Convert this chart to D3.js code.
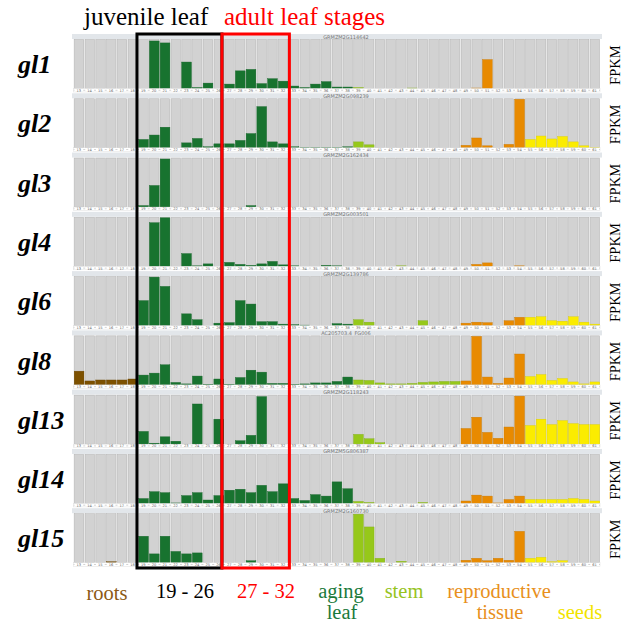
<!DOCTYPE html>
<html>
<head>
<meta charset="utf-8">
<script src="https://cdn.jsdelivr.net/npm/d3@7/dist/d3.min.js"></script>
<style>
  body { margin: 0; background: #fff; }
  svg { display: block; }
</style>
</head>
<body>
<div id="chart"></div>
<script>
// sample numbers shown under every panel
var samples = [13, 14, 15, 16, 17, 18, 19, 20, 21, 22, 23, 24, 25, 26, 27, 28, 29, 30, 31, 32,
               33, 34, 35, 36, 37, 38, 39, 40, 41, 42, 43, 44, 45, 46, 47, 48, 49, 50, 51, 52,
               53, 54, 55, 56, 57, 58, 59, 60, 61];

// tissue of each sample (same order as samples)
var sampleTissue = ["roots", "roots", "roots", "roots", "roots", "roots",
                    "leaf", "leaf", "leaf", "leaf", "leaf", "leaf", "leaf", "leaf",
                    "leaf", "leaf", "leaf", "leaf", "leaf", "leaf",
                    "leaf", "leaf", "leaf", "leaf", "leaf", "leaf",
                    "stem", "stem", "stem", "stem", "stem", "stem", "stem", "stem", "stem", "stem",
                    "repro", "repro", "repro", "repro", "repro", "repro",
                    "seed", "seed", "seed", "seed", "seed", "seed", "seed"];

var genes = ["gl1", "gl2", "gl3", "gl4", "gl6", "gl8", "gl13", "gl14", "gl15"];
var geneIds = ["GRMZM2G114642", "GRMZM2G098239", "GRMZM2G162434", "GRMZM2G003501", "GRMZM2G139786",
               "AC205703.4_FG006", "GRMZM2G118243", "GRMZM5G806387", "GRMZM2G160730"];

// relative FPKM (fraction of panel height), samples 13..61
var gl1  = [0, 0, 0, 0, 0, 0,   0, .97, .93, 0, .54, .02, .11, 0,   .09, .36, .39, .10, .20, .15,
            .05, .02, .09, .14, .03, .03,   .02, 0, 0, 0, 0, .01, 0, 0, 0, 0,
            0, .01, .59, 0, 0, 0,   0, 0, 0, 0, 0, 0, 0];
var gl2  = [0, 0, 0, 0, 0, 0,   .17, .26, .42, 0, .10, .19, .02, .08,   .08, .15, .29, .84, .12, .08,
            .02, .01, .01, .01, .01, .02,   .12, .06, 0, 0, 0, 0, 0, 0, 0, 0,
            .05, .20, .04, 0, .07, .99,   .17, .24, .18, .23, .12, .04, .01];
var gl3  = [0, 0, 0, 0, 0, 0,   .03, .44, .98, 0, 0, 0, 0, 0,   0, 0, .03, 0, 0, 0,
            0, 0, 0, 0, 0, 0,   0, 0, 0, 0, 0, 0, 0, 0, 0, 0,
            0, 0, 0, 0, 0, 0,   0, 0, 0, 0, 0, 0, 0];
var gl4  = [0, 0, 0, 0, 0, 0,   0, .89, .99, 0, .26, .01, .05, 0,   .08, .04, .02, .05, .10, .03,
            .01, 0, 0, .02, .01, 0,   0, 0, 0, 0, .01, 0, 0, 0, 0, 0,
            0, .04, .07, 0, 0, .01,   0, 0, 0, 0, 0, 0, 0];
var gl6  = [0, 0, 0, 0, 0, 0,   .51, .99, .80, 0, .24, .12, 0, .05,   .06, .51, .44, .08, .08, .03,
            .02, .01, 0, 0, .04, .03,   .12, .07, 0, 0, 0, 0, .10, 0, 0, 0,
            .05, .07, .06, 0, .10, .17,   .17, .18, .10, .09, .18, .07, .03];
var gl8  = [.28, .08, .10, .10, .10, .12,   .20, .24, .41, .05, .02, .18, .01, .12,   .01, .15, .30, .26, .03, .03,
            .01, .02, .04, .04, .07, .16,   .10, .09, .04, .02, .02, .03, .05, .06, .07, .07,
            .08, .99, .16, .03, .14, .63,   .17, .21, .09, .13, .06, .02, .06];
var gl13 = [0, 0, 0, 0, 0, 0,   .26, .02, .15, .06, 0, .82, 0, .51,   0, .07, .18, .97, 0, 0,
            0, 0, 0, 0, 0, 0,   .20, .11, .03, 0, 0, 0, 0, 0, 0, 0,
            .32, .55, .24, .12, .35, .98,   .38, .51, .40, .48, .42, .40, .40];
var gl14 = [0, 0, 0, 0, 0, 0,   .10, .24, .22, .01, .16, .22, .07, .16,   .27, .29, .22, .37, .24, .40,
            .10, .06, .18, .15, .44, .30,   .04, .02, 0, 0, 0, 0, .02, 0, 0, 0,
            .05, .17, .15, .01, .08, .15,   .08, .08, .08, .08, .10, .08, .05];
var gl15 = [0, 0, 0, .02, 0, 0,   .54, .18, .54, .23, .18, .20, 0, 0,   0, 0, .04, 0, 0, 0,
            0, 0, 0, 0, 0, 0,   .99, .73, .09, 0, .03, 0, 0, 0, 0, 0,
            .05, .09, .04, .09, .05, .64,   .09, .11, .02, .04, 0, 0, 0];

var expression = [gl1, gl2, gl3, gl4, gl6, gl8, gl13, gl14, gl15];

var tissueColor = { roots: "#7d5100", leaf: "#18732f", stem: "#96c81a", repro: "#e88a00", seed: "#fbec00" };

var width = 626, height = 623;
var serif = "'Liberation Serif', 'Times New Roman', Times, serif";

var svg = d3.select("#chart").append("svg")
    .attr("width", width)
    .attr("height", height);

var x = d3.scaleBand().domain(samples).range([73.5, 600]);
var row = d3.scaleBand().domain(genes).range([33.5, 567]);
var bw = x.bandwidth(), rh = row.bandwidth();

var headH = 5.5, barBottom = 55, tickH = 3.5;
var yv = d3.scaleLinear().domain([0, 1]).range([barBottom, headH + 0.5]);

var rows = svg.selectAll("g.row")
    .data(genes)
    .enter().append("g")
    .attr("class", "row")
    .attr("transform", function(d) { return "translate(0," + row(d) + ")"; });

/* header strip with gene id */
rows.append("rect")
    .attr("x", 72).attr("y", 0.5)
    .attr("width", 530).attr("height", headH - 0.5)
    .attr("fill", "#e2e6ea");
rows.append("text")
    .attr("x", 346).attr("y", 5)
    .attr("text-anchor", "middle")
    .attr("font-family", "'DejaVu Sans', sans-serif")
    .attr("font-size", 5)
    .attr("fill", "#777")
    .text(function(d, i) { return geneIds[i]; });

/* panel background */
rows.append("rect")
    .attr("x", 73.5).attr("y", headH)
    .attr("width", 526.5).attr("height", barBottom - headH)
    .attr("fill", "#ededed");

/* grey columns */
rows.selectAll("rect.col")
    .data(samples)
    .enter().append("rect")
    .attr("class", "col")
    .attr("x", function(d) { return x(d) + 0.9; })
    .attr("y", headH + 0.5)
    .attr("width", bw - 1.4)
    .attr("height", barBottom - headH - 0.5)
    .attr("fill", "#d2d2d2")
    .attr("stroke", "#b5b5b5")
    .attr("stroke-width", 0.5);

/* expression bars */
rows.each(function(gene, gi) {
    var vals = expression[gi];
    d3.select(this).selectAll("rect.bar")
        .data(samples.filter(function(s, i) { return vals[i] > 0; }))
        .enter().append("rect")
        .attr("class", "bar")
        .attr("x", function(d) { return x(d) + 0.7; })
        .attr("width", bw - 1)
        .attr("y", function(d) { return yv(vals[samples.indexOf(d)]); })
        .attr("height", function(d) { return barBottom - yv(vals[samples.indexOf(d)]); })
        .attr("fill", function(d) { return tissueColor[sampleTissue[samples.indexOf(d)]]; })
        .attr("stroke", function(d) { return d3.color(tissueColor[sampleTissue[samples.indexOf(d)]]).darker(0.4); })
        .attr("stroke-width", 0.4);
});

/* tick label strip */
rows.append("rect")
    .attr("x", 73.5).attr("y", barBottom)
    .attr("width", 526.5).attr("height", tickH)
    .attr("fill", "#fff")
    .attr("stroke", "#d8d8d8")
    .attr("stroke-width", 0.4);
rows.append("line")
    .attr("x1", 73.5).attr("x2", 600)
    .attr("y1", barBottom + tickH / 2).attr("y2", barBottom + tickH / 2)
    .attr("stroke", "#c8c8c8")
    .attr("stroke-width", 0.8)
    .attr("stroke-dasharray", "2," + (bw - 2))
    .attr("stroke-dashoffset", 1);
rows.selectAll("text.tick")
    .data(samples)
    .enter().append("text")
    .attr("class", "tick")
    .attr("x", function(d) { return x(d) + bw / 2; })
    .attr("y", barBottom + tickH - 0.3)
    .attr("text-anchor", "middle")
    .attr("font-family", "'DejaVu Sans', sans-serif")
    .attr("font-size", 3.6)
    .attr("fill", "#666")
    .text(function(d) { return d; });

/* gene labels and FPKM */
rows.append("text")
    .attr("x", 18).attr("y", rh / 2 + 10)
    .attr("font-family", serif)
    .attr("font-style", "italic")
    .attr("font-weight", "bold")
    .attr("font-size", 26)
    .attr("fill", "#000")
    .text(function(d) { return d; });
rows.append("text")
    .attr("transform", "translate(620," + (rh / 2 + 2) + ") rotate(-90)")
    .attr("text-anchor", "middle")
    .attr("font-family", serif)
    .attr("font-size", 14.5)
    .attr("fill", "#000")
    .text("FPKM");

/* juvenile / adult boxes */
var boxTop = 34, boxBottom = 568;
svg.append("rect")
    .attr("x", x(19) - 1).attr("y", boxTop)
    .attr("width", x(27) - x(19) - 1).attr("height", boxBottom - boxTop)
    .attr("fill", "none").attr("stroke", "#000").attr("stroke-width", 3);
svg.append("rect")
    .attr("x", x(27) - 2).attr("y", boxTop)
    .attr("width", x(33) - x(27) + 3).attr("height", boxBottom - boxTop)
    .attr("fill", "none").attr("stroke", "#ff0000").attr("stroke-width", 3);

/* titles */
svg.append("text").attr("x", 84).attr("y", 25)
    .attr("font-family", serif).attr("font-size", 25).attr("fill", "#000")
    .text("juvenile leaf");
svg.append("text").attr("x", 224).attr("y", 25)
    .attr("font-family", serif).attr("font-size", 25).attr("fill", "#ff0000")
    .text("adult leaf stages");

/* tissue legend under the panels */
var legend = [
    { t: "roots",        x: 107, y: 600, c: "#8c5a14" },
    { t: "19 - 26",      x: 185, y: 598, c: "#000" },
    { t: "27 - 32",      x: 266, y: 598, c: "#ff0000" },
    { t: "aging",        x: 341, y: 598, c: "#1b7a3c" },
    { t: "leaf",         x: 342, y: 619, c: "#1b7a3c" },
    { t: "stem",         x: 404, y: 598, c: "#96c31e" },
    { t: "reproductive", x: 499, y: 598, c: "#e8901c" },
    { t: "tissue",       x: 500, y: 619, c: "#e8901c" },
    { t: "seeds",        x: 580, y: 619, c: "#f2e400" }
];
svg.selectAll("text.legend")
    .data(legend)
    .enter().append("text")
    .attr("class", "legend")
    .attr("x", function(d) { return d.x; })
    .attr("y", function(d) { return d.y; })
    .attr("text-anchor", "middle")
    .attr("font-family", serif)
    .attr("font-size", 20.5)
    .attr("fill", function(d) { return d.c; })
    .text(function(d) { return d.t; });
</script>
</body>
</html>
